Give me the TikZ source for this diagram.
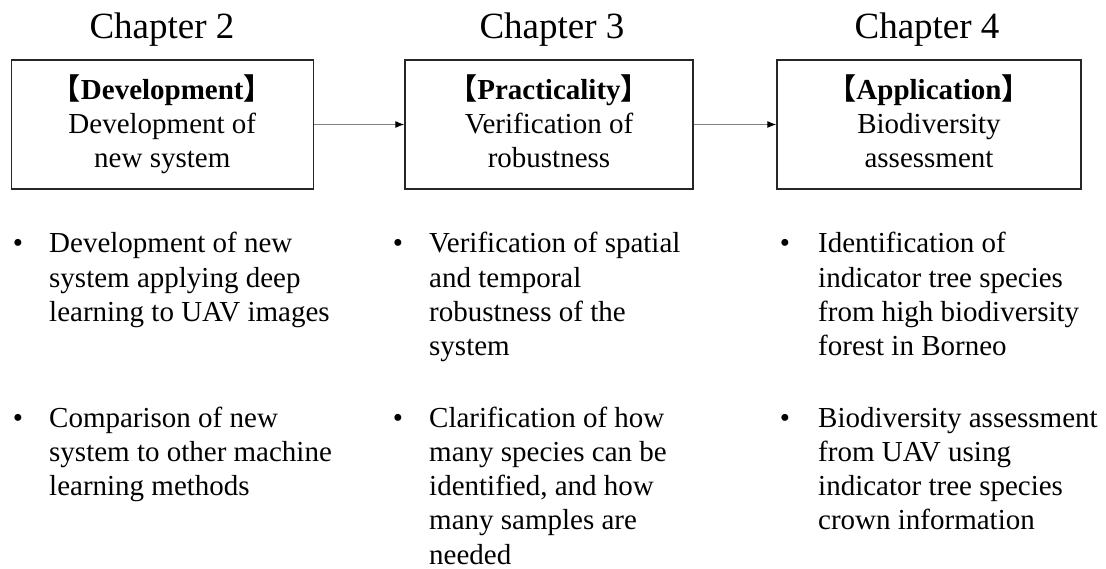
\documentclass[tikz,border=0pt]{standalone}
\usepackage{fontspec}
\setmainfont{Liberation Serif}
\newfontfamily\cjkfont{Noto Sans CJK JP}
\usetikzlibrary{arrows.meta}
\newcommand{\lbrk}{{\cjkfont 【}}
\newcommand{\rbrk}{{\cjkfont 】}}
\begin{document}
\begin{tikzpicture}[x=1pt,y=-1pt,
  chap/.style={anchor=base, inner sep=0pt, font=\fontsize{37}{40}\selectfont},
  stage/.style={draw=black!85, line width=1.3pt, align=center, inner sep=0pt,
    minimum height=129pt, font=\fontsize{29}{34}\selectfont},
  bul/.style={anchor=base, inner sep=0pt, font=\fontsize{29}{34.3}\selectfont},
  itemtext/.style={anchor=base west, inner sep=0pt, align=left,
    font=\fontsize{29}{34.3}\selectfont},
  flow/.style={draw=black!50, line width=1.1pt,
    -{Latex[length=9pt,width=7pt,color=black]}}]
\useasboundingbox (0,0) rectangle (1106,569);

% stage boxes
\node[stage, minimum width=302pt] (b2) at (162.3,124.5)
  {{\bfseries\lbrk Development\rbrk}\\Development of\\new system\vphantom{y}};
\node[stage, minimum width=288pt] (b3) at (549,124.5)
  {{\bfseries\lbrk Practicality\rbrk}\\Verification of\\robustness\vphantom{y}};
\node[stage, minimum width=304pt] (b4) at (929,124.5)
  {{\bfseries\lbrk Application\rbrk}\\Biodiversity\\assessment\vphantom{y}};

% chapter headings
\node[chap] (c2) at (162,39) {Chapter 2};
\node[chap] (c3) at (552,39) {Chapter 3};
\node[chap] (c4) at (927,39) {Chapter 4};

% arrows
\draw[flow] (b2) -- (b3);
\draw[flow] (b3) -- (b4);

% column 1 (text nodes are placed at the baseline of their last line)
\node[bul] (d1) at (18,253) {\textbullet};
\node[itemtext] (t1) at (49,321.6) {Development of new\\system applying deep\\learning to UAV images};
\node[bul] (d2) at (18,427) {\textbullet};
\node[itemtext] (t2) at (49,495.6) {Comparison of new\\system to other machine\\learning methods};

% column 2
\node[bul] (d3) at (398,253) {\textbullet};
\node[itemtext] (t3) at (429,355.9) {Verification of spatial\\and temporal\\robustness of the\\system};
\node[bul] (d4) at (398,427) {\textbullet};
\node[itemtext] (t4) at (429,564.2) {Clarification of how\\many species can be\\identified, and how\\many samples are\\needed};

% column 3
\node[bul] (d5) at (785,253) {\textbullet};
\node[itemtext] (t5) at (818,355.9) {Identification of\\indicator tree species\\from high biodiversity\\forest in Borneo};
\node[bul] (d6) at (785,427) {\textbullet};
\node[itemtext] (t6) at (818,529.9) {Biodiversity assessment\\from UAV using\\indicator tree species\\crown information};
\end{tikzpicture}
\end{document}
